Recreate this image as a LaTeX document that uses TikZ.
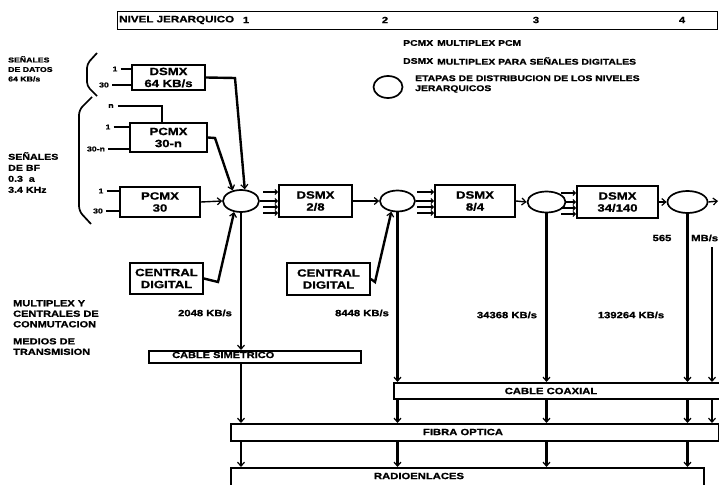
\documentclass[tikz,border=0pt]{standalone}
\usepackage{fontspec}
\setmainfont{Liberation Sans}[FakeStretch=1.25,FakeBold=1.2]
\usetikzlibrary{arrows.meta,shapes.geometric,calc}
\begin{document}
\begin{tikzpicture}[x=1pt,y=-1pt,
  every node/.style={inner sep=0pt},
  fbase/.style={font=\bfseries\fontsize{9}{10.5}\selectfont},
  box/.style={draw,line width=1.7pt,align=center,font=\bfseries\fontsize{10.5}{12}\selectfont},
  stage/.style={draw,ellipse,line width=1.7pt},
  medium/.style={draw,line width=1.5pt,anchor=north west},
  conn/.style={line width=2.4pt},
  thinconn/.style={line width=1.4pt},
  inline/.style={line width=1.4pt},
  tip/.style={-{Straight Barb[length=4pt,width=7pt,line width=1.2pt]}},
  stip/.style={-{Straight Barb[length=2.5pt,width=5pt,line width=1pt]}},
  lbl/.style={fbase},
  small/.style={font=\bfseries\fontsize{7}{9.5}\selectfont},
  leg/.style={font=\bfseries\fontsize{8.3}{10}\selectfont,anchor=west},
  rate/.style={font=\bfseries\fontsize{9}{10}\selectfont}
]
\useasboundingbox (0,0) rectangle (719,484);
\fill[white] (0,0) rectangle (719,484);
\clip (0,0) rectangle (719,484);

% top bar
\node[draw,line width=1.4pt,minimum width=600pt,minimum height=18pt,anchor=north west] (nivel) at (117,11) {};
\node[font=\bfseries\fontsize{9.3}{10}\selectfont,anchor=west] (niveltxt) at (119,20) {NIVEL JERARQUICO};
\node[lbl] (n1) at (246,20) {1};
\node[lbl] (n2) at (385,20) {2};
\node[lbl] (n3) at (536,20) {3};
\node[lbl] (n4) at (682,20) {4};

% legend
\node[leg] (lpcmx) at (403,43) {PCMX};
\node[leg] (lpcmxt) at (437,43) {MULTIPLEX PCM};
\node[leg] (ldsmx) at (403,61) {DSMX};
\node[leg] (ldsmxt) at (437,61) {MULTIPLEX PARA SEÑALES DIGITALES};
\node[stage,minimum width=29pt,minimum height=22pt] (lstage) at (388,87) {};
\node[leg,align=left] (lstaget) at (415,84) {ETAPAS DE DISTRIBUCION DE LOS NIVELES\\JERARQUICOS};

% left labels
\node[small,align=left,anchor=north west] (ldatos) at (8,56) {SEÑALES\\DE DATOS\\64 KB/s};
\node[font=\bfseries\fontsize{8.5}{11}\selectfont,align=left,anchor=north west] (lbf) at (8,152) {SEÑALES\\DE BF\\0.3\ \ a\\3.4 KHz};
\node[font=\bfseries\fontsize{8.8}{10.5}\selectfont,align=left,anchor=north west] (lmux) at (13,300) {MULTIPLEX Y\\CENTRALES DE\\CONMUTACION};
\node[font=\bfseries\fontsize{8.8}{10.5}\selectfont,align=left,anchor=north west] (lmed) at (13,338) {MEDIOS DE\\TRANSMISION};

% braces
\draw[line width=1.7pt,rounded corners=4pt] (97,53) -- (87,64) -- (87,86) -- (97,96);
\draw[line width=1.7pt,rounded corners=5pt] (92,97) -- (79,110) -- (79,211) -- (91,224);

% boxes
\node[box,minimum width=73pt,minimum height=25pt] (dsmx64) at (168.5,77.5) {DSMX\\64 KB/s};
\node[box,minimum width=77pt,minimum height=29pt] (pcmx30n) at (168.5,137.5) {PCMX\\30-n};
\node[box,minimum width=80pt,minimum height=30pt] (pcmx30) at (160,202) {PCMX\\30};
\node[box,minimum width=73pt,minimum height=31pt] (cd1) at (166.5,278.5) {CENTRAL\\DIGITAL};
\node[box,minimum width=73pt,minimum height=32pt] (dsmx28) at (315.5,201) {DSMX\\2/8};
\node[box,minimum width=83pt,minimum height=32pt] (cd2) at (328.5,279) {CENTRAL\\DIGITAL};
\node[box,minimum width=80pt,minimum height=32pt] (dsmx84) at (475,201) {DSMX\\8/4};
\node[box,minimum width=81pt,minimum height=32pt] (dsmx34) at (617.5,202) {DSMX\\34/140};

% stages
\node[stage,minimum width=36pt,minimum height=22pt] (c1) at (241,201) {};
\node[stage,minimum width=35pt,minimum height=21pt] (c2) at (397.5,201) {};
\node[stage,minimum width=38pt,minimum height=21pt] (c3) at (546.5,202) {};
\node[stage,minimum width=40pt,minimum height=22pt] (c4) at (687.5,202) {};

% input labels
\node[small] (i1a) at (115,69) {1};
\node[small] (i30a) at (104,85) {30};
\draw[inline] (i1a.east) ++(3,0) -- (i1a.east -| dsmx64.west);
\draw[inline] (i30a.east) ++(3,0) -- (i30a.east -| dsmx64.west);
\node[small] (inb) at (111,106) {n};
\node[small] (i1b) at (108,127) {1};
\node[small] (i30b) at (96,149) {30-n};
\draw[inline] (inb.east) ++(4,0) -| (162,0 |- pcmx30n.north);
\draw[inline] (i1b.east) ++(3,0) -- (i1b.east -| pcmx30n.west);
\draw[inline] (i30b.east) ++(3,0) -- (i30b.east -| pcmx30n.west);
\node[small] (i1c) at (101,191) {1};
\node[small] (i30c) at (98,211) {30};
\draw[inline] (i1c.east) ++(3,0) -- (i1c.east -| pcmx30.west);
\draw[inline] (i30c.east) ++(3,0) -- (i30c.east -| pcmx30.west);

% feeds into stage 1
\draw[conn,tip] (dsmx64.east) -- (235,78) -- (c1.72);
\draw[conn,tip] (pcmx30n.east) -- (215,138) -- (c1.128);
\draw[thinconn,tip] (pcmx30.east) -- (c1.west);
\draw[conn,tip] (cd1.east) -- (218,282) -- (c1.238);

% chain
\draw[thinconn,stip] (c1.east) -- (c1.east -| dsmx28.west);
\foreach \dy in {-9,6,12} \draw[thinconn,stip] ([shift={(-15,\dy)}]dsmx28.west) -- ([shift={(0,\dy)}]dsmx28.west);
\draw[thinconn,tip] (dsmx28.east) -- (c2.west);
\draw[conn,tip] (cd2.east) -- (375,282) -- (c2.240);
\draw[thinconn,stip] (c2.east) -- (c2.east -| dsmx84.west);
\foreach \dy in {-9,6,12} \draw[thinconn,stip] ([shift={(-17,\dy)}]dsmx84.west) -- ([shift={(0,\dy)}]dsmx84.west);
\draw[thinconn,tip] (dsmx84.east) -- (c3.west);
\draw[thinconn,stip] (c3.east) -- (c3.east -| dsmx34.west);
\foreach \dy in {-9,6,12} \draw[thinconn,stip] ([shift={(-15,\dy)}]dsmx34.west) -- ([shift={(0,\dy)}]dsmx34.west);
\draw[thinconn,tip] (dsmx34.east) -- (c4.west);
\coordinate (out4) at (718,201);
\draw[thinconn,tip] (c4.east) -- (out4);

% media
\node[medium,minimum width=212pt,minimum height=12pt] (cablesim) at (148,350) {};
\node[rate,anchor=west,font=\bfseries\fontsize{8.8}{10}\selectfont] (cablesimt) at (172,355) {CABLE SIMETRICO};
\node[medium,minimum width=340pt,minimum height=16pt] (coax) at (393,382) {};
\node[rate] (coaxt) at (551,391) {CABLE COAXIAL};
\node[medium,minimum width=488pt,minimum height=17pt] (fibra) at (230,423) {};
\node[rate] (fibrat) at (463,432) {FIBRA OPTICA};
\node[medium,minimum width=473pt,minimum height=18pt] (radio) at (230,467) {};
\node[rate] (radiot) at (419,476) {RADIOENLACES};

% verticals
\draw[conn,tip] (c1.south) -- (c1.south |- cablesim.north);
\draw[conn,tip] (c1.south |- cablesim.south) -- (c1.south |- fibra.north);
\draw[conn,tip] (c1.south |- fibra.south) -- (c1.south |- radio.north);
\draw[conn,tip] (c2.south) -- (c2.south |- coax.north);
\draw[conn,tip] (c2.south |- coax.south) -- (c2.south |- fibra.north);
\draw[conn,tip] (c2.south |- fibra.south) -- (c2.south |- radio.north);
\draw[conn,tip] (c3.south) -- (c3.south |- coax.north);
\draw[conn,tip] (c3.south |- coax.south) -- (c3.south |- fibra.north);
\draw[conn,tip] (c3.south |- fibra.south) -- (c3.south |- radio.north);
\draw[conn,tip] (c4.south) -- (c4.south |- coax.north);
\draw[conn,tip] (c4.south |- coax.south) -- (c4.south |- fibra.north);
\draw[conn,tip] (c4.south |- fibra.south) -- (c4.south |- radio.north);
\coordinate (x4) at (712,247);
\draw[conn,tip] (x4) -- (x4 |- coax.north);
\draw[conn,tip] (x4 |- coax.south) -- (x4 |- fibra.north);

% rates
\node[rate] (r1) at (205,313) {2048 KB/s};
\node[rate] (r2) at (362,313) {8448 KB/s};
\node[rate] (r3) at (507,315) {34368 KB/s};
\node[rate] (r4) at (631,315) {139264 KB/s};
\node[rate] (r5a) at (662,238) {565};
\node[rate,anchor=west] (r5b) at (691,238) {MB/s};
\end{tikzpicture}
\end{document}
